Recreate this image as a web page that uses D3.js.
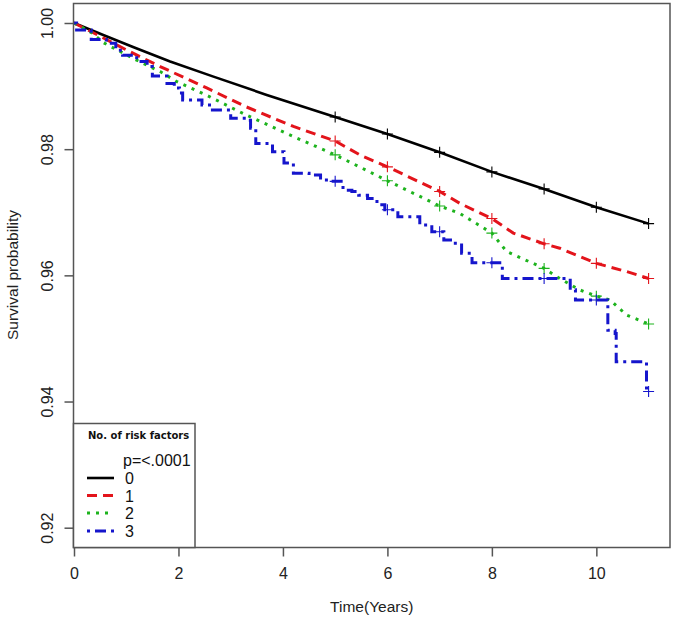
<!DOCTYPE html>
<html>
<head>
<meta charset="utf-8">
<script src="https://cdn.jsdelivr.net/npm/d3@7"></script>
<style>
  body { margin: 0; background: #fff; }
  svg { font-family: "Liberation Sans", Arial, sans-serif; }
</style>
</head>
<body>
<div id="chart"></div>
<script>

// survival curves (time in years, survival probability)
var times0 = [0, 0.56, 1.13, 1.84, 2.67, 3.69, 5, 6, 7, 8, 9, 10, 11];
var surv0  = [1.0, 0.9981, 0.9962, 0.9939, 0.9915, 0.9886, 0.9851, 0.9824, 0.9795, 0.9764, 0.9737, 0.9708, 0.9682];

var times1 = [0, 0.5, 1.01, 1.65, 2.54, 3.3, 4.2, 5, 5.47, 6, 7, 7.39, 8, 8.41, 9, 9.3, 10, 10.58, 11];
var surv1  = [1.0, 0.9979, 0.9957, 0.9931, 0.9897, 0.9867, 0.9836, 0.9813, 0.9791, 0.9772, 0.9733, 0.9714, 0.9690, 0.9667, 0.9650, 0.9643, 0.9619, 0.9606, 0.9595];

var times2 = [0, 0.35, 0.56, 1.2, 1.65, 1.97, 2.6, 3.3, 4.2, 5, 5.66, 6, 7, 7.39, 8, 8.28, 9, 9.3, 9.68, 10, 10.26, 10.58, 11];
var surv2  = [1.0, 0.9984, 0.9969, 0.9941, 0.9923, 0.9907, 0.9883, 0.9854, 0.9820, 0.9791, 0.9764, 0.9750, 0.9710, 0.9698, 0.9667, 0.9638, 0.9611, 0.9595, 0.9577, 0.9567, 0.9561, 0.9537, 0.9523];

// group 3 is drawn as a step curve
var times3 = [0, 0.05, 0.33, 0.62, 0.8, 0.93, 1.2, 1.4, 1.5, 1.78, 1.92, 2.02, 2.08, 2.45, 2.65, 3.0, 3.3, 3.38, 3.48, 3.8, 4.02, 4.2, 4.5, 4.72, 4.9, 5.15, 5.32, 5.45, 5.62, 5.8, 5.95, 6.2, 6.62, 6.85, 7.08, 7.25, 7.42, 7.62, 8.2, 9.5, 9.6, 10.22, 10.36, 10.38, 10.96, 11.0];
var surv3  = [1.0, 0.9989, 0.9974, 0.9968, 0.9957, 0.9949, 0.9939, 0.9931, 0.9916, 0.9904, 0.9897, 0.9889, 0.9878, 0.9870, 0.9862, 0.9849, 0.9846, 0.9833, 0.9809, 0.9796, 0.9778, 0.9762, 0.9759, 0.9751, 0.9749, 0.9735, 0.9733, 0.9727, 0.9722, 0.9712, 0.9704, 0.9693, 0.9680, 0.9669, 0.9656, 0.9651, 0.9635, 0.9620, 0.9595, 0.9577, 0.9561, 0.9513, 0.9508, 0.9463, 0.9416, 0.9416];

// censoring marks (+)
var censorTimes = [5, 6, 7, 8, 9, 10, 11];
var censor0 = [0.9851, 0.9824, 0.9795, 0.9764, 0.9737, 0.9708, 0.9682];
var censor1 = [0.9813, 0.9772, 0.9733, 0.9690, 0.9650, 0.9619, 0.9595];
var censor2 = [0.9791, 0.9750, 0.9710, 0.9667, 0.9611, 0.9567, 0.9523];
var censor3 = [0.9749, 0.9704, 0.9669, 0.9620, 0.9595, 0.9561, 0.9416];

var groupLabels = ["0", "1", "2", "3"];
var xTicks = [0, 2, 4, 6, 8, 10];
var yTicks = [0.92, 0.94, 0.96, 0.98, 1.00];

var svgWidth = 675;
var svgHeight = 622;

var box = { left: 73.5, right: 670, top: 3.5, bottom: 547.5 };

var svg = d3.select("#chart")
  .append("svg")
  .attr("width", svgWidth)
  .attr("height", svgHeight);

var xScale = d3.scaleLinear()
  .domain([0, 11.41])
  .range([74, 670]);

var yScale = d3.scaleLinear()
  .domain([0.92, 1.00])
  .range([527.7, 23]);

var series = [
  { label: groupLabels[0], times: times0, surv: surv0, censor: censor0, color: "#000000", dash: null, width: 2.6, curve: d3.curveLinear },
  { label: groupLabels[1], times: times1, surv: surv1, censor: censor1, color: "#e3141b", dash: "10,6", width: 3, curve: d3.curveLinear },
  { label: groupLabels[2], times: times2, surv: surv2, censor: censor2, color: "#1db31d", dash: "3,6", width: 3, curve: d3.curveLinear },
  { label: groupLabels[3], times: times3, surv: surv3, censor: censor3, color: "#1515cc", dash: "3,5,11,5", width: 3, curve: d3.curveStepAfter }
];

// axes
var leftAxis = d3.axisLeft(yScale)
  .tickValues(yTicks)
  .tickFormat(d3.format(".2f"))
  .tickSize(9);

var yAxisG = svg.append("g")
  .attr("transform", `translate(${box.left}, 0)`)
  .call(leftAxis);
yAxisG.select(".domain").remove();
yAxisG.selectAll("line").attr("stroke", "#555").attr("stroke-width", 1.5);
yAxisG.selectAll("text")
  .attr("x", 0)
  .attr("dy", 0)
  .attr("text-anchor", "middle")
  .attr("transform", "translate(-21, 0) rotate(-90)")
  .style("font-size", "16px")
  .style("font-family", "'Liberation Sans', Arial, sans-serif")
  .attr("fill", "#222");

var bottomAxis = d3.axisBottom(xScale)
  .tickValues(xTicks)
  .tickFormat(d3.format("d"))
  .tickSize(9)
  .tickPadding(11);

var xAxisG = svg.append("g")
  .attr("transform", `translate(0, ${box.bottom})`)
  .call(bottomAxis);
xAxisG.select(".domain").remove();
xAxisG.selectAll("line").attr("stroke", "#555").attr("stroke-width", 1.5);
xAxisG.selectAll("text")
  .style("font-size", "16px")
  .style("font-family", "'Liberation Sans', Arial, sans-serif")
  .attr("fill", "#222");

// axis titles
svg.append("text")
  .attr("x", (box.left + box.right) / 2)
  .attr("y", 612)
  .attr("text-anchor", "middle")
  .style("font-size", "15.5px")
  .attr("fill", "#222")
  .text("Time(Years)");

svg.append("text")
  .attr("transform", "translate(18, 275) rotate(-90)")
  .attr("text-anchor", "middle")
  .style("font-size", "15.5px")
  .attr("fill", "#222")
  .text("Survival probability");

// curves
var plotG = svg.append("g");

series.forEach(function(s) {
  var pts = s.times.map(function(t, i) { return [t, s.surv[i]]; });
  var line = d3.line()
    .x(d => xScale(d[0]))
    .y(d => yScale(d[1]))
    .curve(s.curve);

  plotG.append("path")
    .datum(pts)
    .attr("d", line)
    .attr("fill", "none")
    .attr("stroke", s.color)
    .attr("stroke-width", s.width)
    .attr("stroke-dasharray", s.dash);

  // censor marks
  var marks = censorTimes.map(function(t, i) { return [t, s.censor[i]]; });
  plotG.selectAll(null)
    .data(marks)
    .enter()
    .append("path")
    .attr("d", d => {
      var cx = xScale(d[0]), cy = yScale(d[1]), r = 5.5;
      return `M${cx - r},${cy}H${cx + r}M${cx},${cy - r}V${cy + r}`;
    })
    .attr("stroke", s.color)
    .attr("stroke-width", 1.1)
    .attr("fill", "none");
});

// plot box
svg.append("rect")
  .attr("x", box.left)
  .attr("y", box.top)
  .attr("width", box.right - box.left)
  .attr("height", box.bottom - box.top)
  .attr("fill", "none")
  .attr("stroke", "#555")
  .attr("stroke-width", 1.5);

// legend
var legend = svg.append("g");

legend.append("rect")
  .attr("x", box.left)
  .attr("y", 423.5)
  .attr("width", 195 - box.left)
  .attr("height", box.bottom - 423.5)
  .attr("fill", "#fff")
  .attr("stroke", "#555")
  .attr("stroke-width", 1.5);

legend.append("text")
  .attr("x", 88)
  .attr("y", 439)
  .style("font-size", "10px")
  .style("font-weight", "bold")
  .style("font-family", "'DejaVu Sans', Verdana, sans-serif")
  .attr("fill", "#111")
  .text("No. of risk factors");

legend.append("text")
  .attr("x", 123)
  .attr("y", 465.5)
  .style("font-size", "16px")
  .attr("fill", "#111")
  .text("p=<.0001");

var legendY = [478, 495.5, 513, 531];

series.forEach(function(s, i) {
  legend.append("line")
    .attr("x1", 87)
    .attr("x2", 114)
    .attr("y1", legendY[i])
    .attr("y2", legendY[i])
    .attr("stroke", s.color)
    .attr("stroke-width", s.width)
    .attr("stroke-dasharray", s.dash);

  legend.append("text")
    .attr("x", 125)
    .attr("y", legendY[i] + 6)
    .style("font-size", "16px")
    .attr("fill", "#111")
    .text(s.label);
});

</script>
</body>
</html>
